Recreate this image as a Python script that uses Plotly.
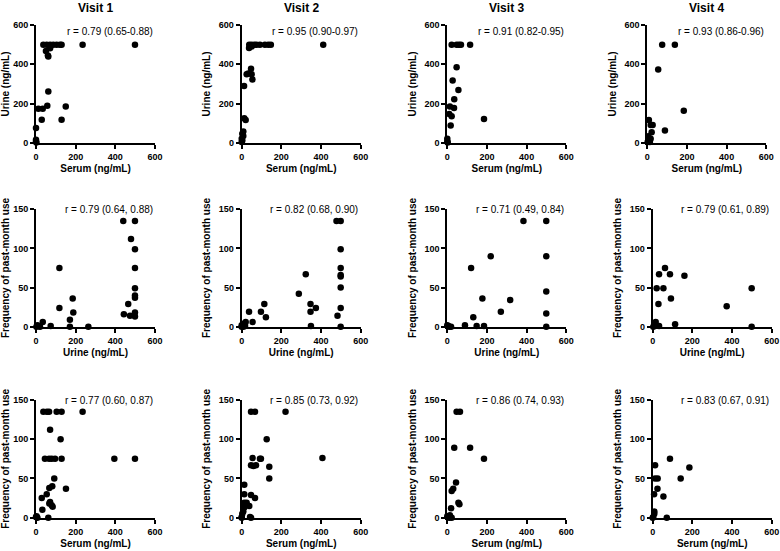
import plotly.graph_objects as go

# Visit titles and correlation labels
visits = ["Visit 1", "Visit 2", "Visit 3", "Visit 4"]
r_serum_urine = ["r = 0.79 (0.65-0.88)", "r = 0.95 (0.90-0.97)",
                 "r = 0.91 (0.82-0.95)", "r = 0.93 (0.86-0.96)"]
r_urine_freq = ["r = 0.79 (0.64, 0.88)", "r = 0.82 (0.68, 0.90)",
                "r = 0.71 (0.49, 0.84)", "r = 0.79 (0.61, 0.89)"]
r_serum_freq = ["r = 0.77 (0.60, 0.87)", "r = 0.85 (0.73, 0.92)",
                "r = 0.86 (0.74, 0.93)", "r = 0.83 (0.67, 0.91)"]

# Row 1: serum vs urine
v1_su_serum = [37, 54, 71, 87, 104, 121, 129, 235, 499, 50, 71, 60, 62, 62, 57, 12, 34, 29, 129, 150, 0, 0, 0, 2]
v1_su_urine = [500, 500, 500, 500, 500, 500, 500, 500, 500, 468, 482, 445, 440, 262, 189, 174, 174, 118, 118, 186, 76, 17, 8, 3]
v2_su_serum = [38, 50, 64, 75, 92, 117, 134, 147, 411, 37, 50, 47, 33, 50, 54, 25, 12, 13, 20, 8, 3, 8, 0, 3, 0]
v2_su_urine = [500, 500, 500, 500, 500, 500, 500, 500, 500, 483, 491, 377, 354, 349, 323, 349, 290, 126, 117, 59, 47, 35, 22, 13, 5]
v3_su_serum = [22, 47, 59, 69, 115, 47, 27, 56, 35, 13, 34, 10, 22, 17, 185, 0, 0, 2]
v3_su_urine = [500, 500, 500, 500, 500, 385, 318, 270, 223, 186, 178, 147, 136, 89, 122, 22, 8, 2]
v4_su_serum = [75, 139, 55, 184, 89, 8, 17, 27, 22, 5, 17, 5, 2, 13]
v4_su_urine = [500, 500, 374, 164, 64, 117, 92, 92, 55, 34, 22, 13, 5, 5]

# Row 2: urine vs frequency of past-month use
v1_uf_urine = [440, 499, 479, 499, 499, 499, 499, 499, 465, 443, 474, 499, 499, 118, 118, 185, 188, 171, 171, 264, 34, 74, 2, 12, 20, 7]
v1_uf_freq = [135, 135, 112, 99, 75, 49, 40, 37, 29, 16, 14, 18, 13, 75, 24, 36, 18, 9, 0, 0, 6, 1, 0, 1, 0, 2]
v2_uf_urine = [478, 499, 499, 499, 499, 499, 499, 499, 483, 499, 323, 288, 347, 347, 349, 374, 37, 97, 114, 122, 55, 20, 13, 0, 8, 17, 0, 8]
v2_uf_freq = [135, 135, 99, 75, 66, 64, 50, 24, 14, 0, 67, 42, 29, 19, 1, 24, 19, 19, 29, 12, 6, 6, 4, 2, 0, 1, 0, 3]
v3_uf_urine = [384, 499, 219, 499, 120, 499, 499, 499, 177, 317, 270, 131, 89, 148, 185, 0, 10, 19, 5]
v3_uf_freq = [135, 135, 90, 90, 75, 45, 17, 0, 36, 34, 19, 12, 2, 1, 1, 2, 0, 0, 1]
v4_uf_urine = [62, 32, 87, 20, 54, 92, 160, 29, 15, 113, 32, 3, 373, 499, 499]
v4_uf_freq = [75, 67, 67, 49, 49, 36, 65, 29, 6, 3, 1, 0, 26, 49, 0]

# Row 3: serum vs frequency of past-month use
v1_sf_serum = [37, 55, 66, 104, 129, 235, 71, 124, 45, 66, 79, 96, 129, 395, 499, 92, 67, 82, 151, 29, 54, 67, 71, 79, 84, 32, 62, 0, 7, 3]
v1_sf_freq = [135, 135, 135, 135, 135, 135, 112, 100, 75, 75, 75, 75, 75, 75, 75, 50, 38, 40, 37, 25, 30, 18, 20, 16, 14, 10, 0, 1, 0, 2]
v2_sf_serum = [47, 67, 221, 126, 55, 92, 97, 47, 59, 72, 139, 139, 407, 13, 13, 47, 67, 25, 13, 38, 13, 8, 3, 42, 47, 0, 0]
v2_sf_freq = [135, 135, 135, 100, 76, 75, 75, 67, 66, 67, 65, 50, 76, 42, 30, 29, 25, 19, 19, 15, 13, 8, 5, 1, 0, 1, 0]
v3_sf_serum = [47, 64, 35, 115, 185, 44, 30, 22, 56, 61, 19, 0, 5, 13, 22, 10]
v3_sf_freq = [135, 135, 89, 89, 75, 45, 37, 34, 19, 17, 12, 2, 1, 3, 0, 0]
v4_sf_serum = [12, 87, 185, 12, 25, 141, 24, 7, 54, 8, 8, 3, 0, 71]
v4_sf_freq = [67, 75, 64, 50, 50, 50, 37, 30, 27, 8, 5, 1, 0, 0]

W, H = 780, 551
FONT = "Liberation Sans, Arial, sans-serif"

rows = [
    dict(data=[(v1_su_serum, v1_su_urine), (v2_su_serum, v2_su_urine),
               (v3_su_serum, v3_su_urine), (v4_su_serum, v4_su_urine)],
         xtitle="Serum (ng/mL)", ytitle="Urine (ng/mL)", ymax=600, ydtick=200,
         labels=r_serum_urine, label_y=565,
         x0=[36, 241.7, 447.3, 647.3], y_bottom=143, y_top=25),
    dict(data=[(v1_uf_urine, v1_uf_freq), (v2_uf_urine, v2_uf_freq),
               (v3_uf_urine, v3_uf_freq), (v4_uf_urine, v4_uf_freq)],
         xtitle="Urine (ng/mL)", ytitle="Frequency of past-month use", ymax=150, ydtick=50,
         labels=r_urine_freq, label_y=150,
         x0=[36, 241.7, 447.3, 652.7], y_bottom=326.7, y_top=209.3),
    dict(data=[(v1_sf_serum, v1_sf_freq), (v2_sf_serum, v2_sf_freq),
               (v3_sf_serum, v3_sf_freq), (v4_sf_serum, v4_sf_freq)],
         xtitle="Serum (ng/mL)", ytitle="Frequency of past-month use", ymax=150, ydtick=50,
         labels=r_serum_freq, label_y=150,
         x0=[36, 241.7, 447.3, 652.7], y_bottom=517.7, y_top=400),
]

fig = go.Figure()
layout = {}
annotations = []
tickfont = dict(family=FONT, size=9, color="black", weight="bold")
titlefont = dict(family=FONT, size=10, color="black", weight="bold")
axis_common = dict(showline=True, linecolor="black", linewidth=2,
                   ticks="outside", ticklen=4, tickwidth=1.5, tickcolor="black",
                   showgrid=False, zeroline=False, tickfont=tickfont,
                   automargin=False, fixedrange=True)

n = 0
for ri, row in enumerate(rows):
    for ci, (xs, ys) in enumerate(row["data"]):
        n += 1
        sfx = "" if n == 1 else str(n)
        x0 = row["x0"][ci]
        layout["xaxis" + sfx] = dict(
            axis_common, domain=[x0 / W, (x0 + 119) / W], range=[0, 600],
            tick0=0, dtick=200, anchor="y" + sfx,
            title=dict(text=row["xtitle"], font=titlefont, standoff=4))
        layout["yaxis" + sfx] = dict(
            axis_common, domain=[1 - row["y_bottom"] / H, 1 - row["y_top"] / H],
            range=[0, row["ymax"]], tick0=0, dtick=row["ydtick"], anchor="x" + sfx,
            title=dict(text=row["ytitle"], font=titlefont, standoff=6))
        fig.add_trace(go.Scatter(
            x=xs, y=ys, mode="markers", xaxis="x" + sfx, yaxis="y" + sfx,
            marker=dict(color="black", size=6.5), cliponaxis=False,
            showlegend=False, hoverinfo="x+y"))
        annotations.append(dict(
            text=row["labels"][ci], x=598, y=row["label_y"],
            xref="x" + sfx, yref="y" + sfx, xanchor="right", yanchor="middle",
            showarrow=False, font=dict(family=FONT, size=10, color="black")))
        if ri == 0:
            annotations.append(dict(
                text=visits[ci], x=(x0 + 59.5) / W, y=1 - 8 / H,
                xref="paper", yref="paper", xanchor="center", yanchor="middle",
                showarrow=False,
                font=dict(family=FONT, size=12, color="black", weight="bold")))

fig.update_layout(
    width=W, height=H, margin=dict(l=0, r=0, t=0, b=0),
    paper_bgcolor="white", plot_bgcolor="white",
    annotations=annotations, **layout)

# page body has a default 8px margin; drop it so the figure fills the window
fig.write_html("out.html", config={"displayModeBar": False},
               post_script="document.body.style.margin='0';document.body.style.overflow='hidden';")
